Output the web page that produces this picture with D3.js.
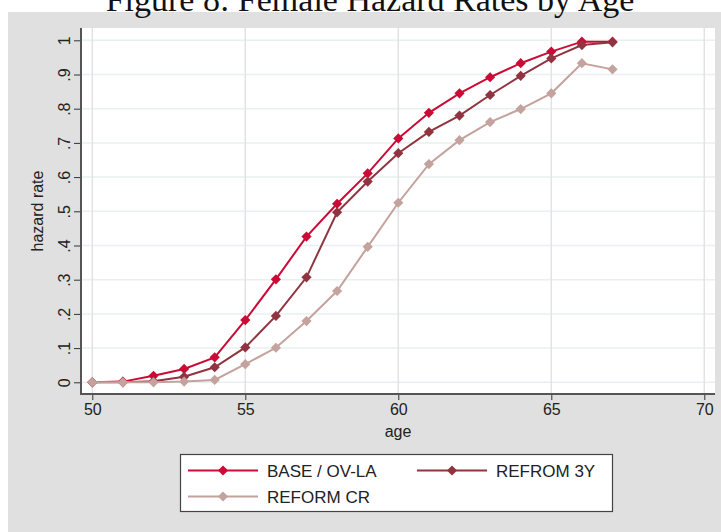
<!DOCTYPE html>
<html><head><meta charset="utf-8">
<script src="https://cdn.jsdelivr.net/npm/d3@7"></script>
<style>body{margin:0;background:#fff}svg{display:block}</style>
</head><body><svg id="c" width="721" height="532"></svg>
<script>
const ages = [50,51,52,53,54,55,56,57,58,59,60,61,62,63,64,65,66,67];
const baseOvLa = [0,0.002,0.019,0.039,0.073,0.182,0.301,0.426,0.522,0.611,0.713,0.788,0.845,0.892,0.933,0.967,0.996,0.996];
const refrom3Y = [0,0,0.003,0.016,0.044,0.102,0.194,0.307,0.497,0.587,0.670,0.732,0.780,0.840,0.896,0.947,0.986,0.994];
const reformCR = [0,0,0,0.002,0.007,0.053,0.101,0.179,0.267,0.396,0.525,0.638,0.708,0.761,0.799,0.845,0.933,0.915];
const seriesNames = ["BASE / OV-LA","REFROM 3Y","REFORM CR"];
const seriesColors = ["#cc0a36","#903540","#c4a29d"];
const xTicks = [50,55,60,65,70];
const yTicks = [0,0.1,0.2,0.3,0.4,0.5,0.6,0.7,0.8,0.9,1];
const yTickLabels = ["0",".1",".2",".3",".4",".5",".6",".7",".8",".9","1"];
const title = "Figure 8: Female Hazard Rates by Age";

const svg = d3.select("#c");
const font = "'Liberation Sans', Arial, sans-serif";
svg.append("rect").attr("x",8).attr("y",12).attr("width",713).attr("height",520).attr("fill","#e0e0e0");
svg.append("text").attr("x",370).attr("y",11).attr("text-anchor","middle")
  .attr("font-family","'Liberation Serif','Times New Roman',serif").attr("font-size",34).attr("fill","#111").text(title);

const L=81,R=715,T=28,B=394;
svg.append("rect").attr("x",L).attr("y",T).attr("width",R-L).attr("height",B-T).attr("fill","#fff");
const x = d3.scaleLinear().domain([50,70]).range([92.3,704.3]);
const y = d3.scaleLinear().domain([0,1]).range([382.3,40.3]);

// grid
svg.append("g").selectAll("line").data(yTicks).join("line")
  .attr("x1",L).attr("x2",R).attr("y1",d=>y(d)).attr("y2",d=>y(d)).attr("stroke","#e8f0f1").attr("stroke-width",1.5);
svg.append("g").selectAll("line").data(xTicks).join("line")
  .attr("y1",T).attr("y2",B).attr("x1",d=>x(d)).attr("x2",d=>x(d)).attr("stroke","#e2e2e2").attr("stroke-width",1.5);

// axes
const xAxis = d3.axisBottom(x).tickValues(xTicks).tickSize(6).tickPadding(4);
const gx = svg.append("g").attr("transform",`translate(0,${B})`).call(xAxis);
gx.select(".domain").remove();
gx.selectAll("line").attr("stroke","#333");
gx.selectAll("text").attr("font-family",font).attr("font-size",16).attr("fill","#222");
svg.append("line").attr("x1",L).attr("x2",R).attr("y1",B).attr("y2",B).attr("stroke","#555").attr("stroke-width",2);

const yAxis = d3.axisLeft(y).tickValues(yTicks).tickSize(7).tickFormat((d,i)=>yTickLabels[i]);
const gy = svg.append("g").attr("transform",`translate(${L},0)`).call(yAxis);
gy.select(".domain").remove();
gy.selectAll("line").attr("stroke","#333");
gy.selectAll("text").attr("font-family",font).attr("font-size",16).attr("fill","#222")
  .attr("text-anchor","middle").attr("dy",0).attr("x",0)
  .attr("transform","translate(-11,0) rotate(-90)");
svg.append("line").attr("x1",L).attr("x2",L).attr("y1",T).attr("y2",B+1).attr("stroke","#555").attr("stroke-width",2);

svg.append("text").attr("x",(L+R)/2).attr("y",437).attr("text-anchor","middle")
  .attr("font-family",font).attr("font-size",16).attr("fill","#222").text("age");
svg.append("text").attr("transform",`translate(43,${(T+B)/2}) rotate(-90)`).attr("text-anchor","middle")
  .attr("font-family",font).attr("font-size",16).attr("fill","#222").text("hazard rate");

// series
const allSeries = [baseOvLa, refrom3Y, reformCR];
const line = d3.line().x((d,i)=>x(ages[i])).y(d=>y(d));
const diamond = d3.symbol().type(d3.symbolSquare).size(52);
[0,1,2].forEach(k=>{
  const g = svg.append("g");
  g.append("path").datum(allSeries[k]).attr("d",line).attr("fill","none")
    .attr("stroke",seriesColors[k]).attr("stroke-width",2);
  g.selectAll("path.m").data(allSeries[k]).join("path").attr("class","m")
    .attr("d",diamond).attr("transform",(d,i)=>`translate(${x(ages[i])},${y(d)}) rotate(45)`)
    .attr("fill",seriesColors[k]);
});

// legend
svg.append("rect").attr("x",180.5).attr("y",454.5).attr("width",432).attr("height",57)
  .attr("fill","#fff").attr("stroke","#444").attr("stroke-width",1.2);
const legPos = [[188,470.5],[417,470.5],[188,496.5]];
seriesNames.forEach((n,k)=>{
  const [lx,ly]=legPos[k];
  svg.append("line").attr("x1",lx).attr("x2",lx+70).attr("y1",ly).attr("y2",ly)
    .attr("stroke",seriesColors[k]).attr("stroke-width",2);
  svg.append("path").attr("d",diamond).attr("transform",`translate(${lx+35},${ly}) rotate(45)`).attr("fill",seriesColors[k]);
  svg.append("text").attr("x",lx+79).attr("y",ly+6).attr("font-family",font).attr("font-size",17)
    .attr("fill","#222").text(n);
});
</script></body></html>
